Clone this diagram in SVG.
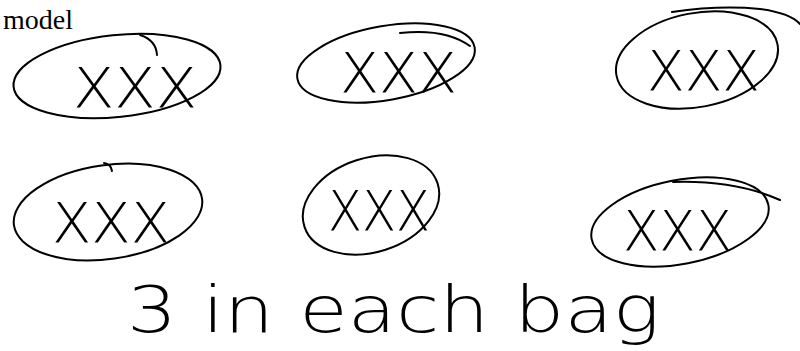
<svg xmlns="http://www.w3.org/2000/svg" width="800" height="351" viewBox="0 0 800 351">
<style>
.bag{fill:none;stroke:#000;stroke-width:2;stroke-linecap:round}
.x{font-family:"DejaVu Sans","Liberation Sans",sans-serif;font-weight:200;font-size:56px;fill:#000}
.hand{font-family:"DejaVu Sans","Liberation Sans",sans-serif;font-weight:200;font-size:64px;fill:#000}
.title{font-family:"Liberation Serif",serif;font-size:28px;fill:#000}
</style>
<rect width="800" height="351" fill="#fff"/>
<text class="title" x="3" y="29">model</text>
<g id="bag1">
<ellipse class="bag" cx="117" cy="76" rx="104" ry="41" transform="rotate(-6 117 76)"/>
<path class="bag" d="M140 35 Q156 40 157 55"/>
<text class="x" x="73" y="107" textLength="124" lengthAdjust="spacingAndGlyphs">XXX</text>
</g>
<g id="bag2">
<ellipse class="bag" cx="386" cy="63" rx="90" ry="37" transform="rotate(-10 386 63)"/>
<path class="bag" d="M400 33 Q445 28 470 46"/>
<text class="x" x="340" y="92" textLength="117" lengthAdjust="spacingAndGlyphs">XXX</text>
</g>
<g id="bag3">
<ellipse class="bag" cx="697" cy="60" rx="82" ry="47" transform="rotate(-11 697 60)"/>
<path class="bag" d="M672 12 Q720 5 760 9 Q790 13 800 24"/>
<text class="x" x="647" y="90" textLength="113" lengthAdjust="spacingAndGlyphs">XXX</text>
</g>
<g id="bag4">
<ellipse class="bag" cx="108" cy="212" rx="95" ry="47" transform="rotate(-8 108 212)"/>
<path class="bag" d="M104 163 Q111 164 112 171"/>
<text class="x" x="52" y="242" textLength="118" lengthAdjust="spacingAndGlyphs">XXX</text>
</g>
<g id="bag5">
<ellipse class="bag" cx="371" cy="205" rx="70" ry="47" transform="rotate(-18 371 205)"/>
<text class="x" x="328" y="230" textLength="102" lengthAdjust="spacingAndGlyphs">XXX</text>
</g>
<g id="bag6">
<ellipse class="bag" cx="680" cy="222" rx="90" ry="42" transform="rotate(-11 680 222)"/>
<path class="bag" d="M673 182 Q735 180 780 200"/>
<text class="x" x="623" y="250" textLength="109" lengthAdjust="spacingAndGlyphs">XXX</text>
</g>
<text class="hand" x="127" y="332" textLength="533" lengthAdjust="spacingAndGlyphs">3 in each bag</text>
</svg>
